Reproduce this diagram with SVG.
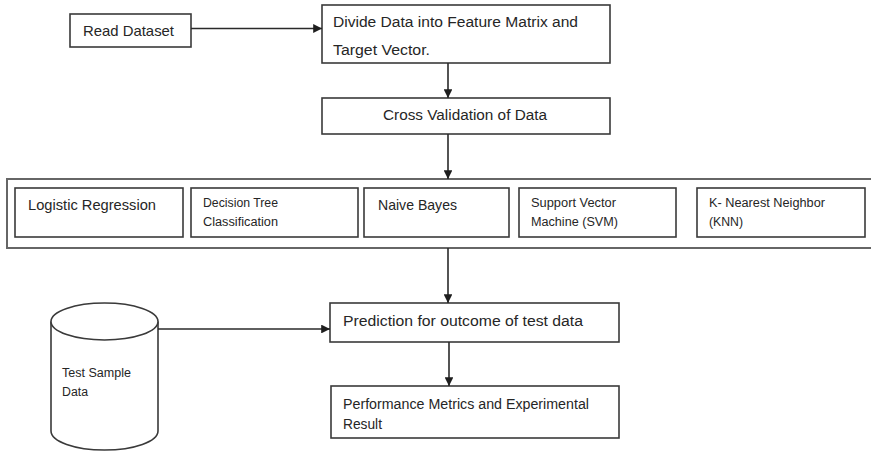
<svg xmlns="http://www.w3.org/2000/svg" width="871" height="452" viewBox="0 0 871 452">
  <style>
    .box { fill: #ffffff; stroke: #3a3a3a; stroke-width: 1.6; }
    .frame { fill: #ffffff; stroke: #666666; stroke-width: 2; }
    .link { fill: none; stroke: #2a2a2a; stroke-width: 1.6; }
    text { font-family: "Liberation Sans", Arial, sans-serif; fill: #262626; }
    .lg { font-size: 15px; }
    .md { font-size: 14px; }
    .sm { font-size: 12.5px; }
  </style>
  <defs>
    <marker id="arrow" viewBox="0 0 10 10" refX="10" refY="5" markerWidth="5.5" markerHeight="5.5" orient="auto" markerUnits="strokeWidth">
      <path d="M0,0 L10,5 L0,10 z" fill="#1e1e1e"/>
    </marker>
  </defs>
  <rect width="871" height="452" fill="#ffffff"/>

  <g id="read-dataset">
    <rect class="box" x="70" y="14" width="121" height="33"/>
    <text class="lg" x="83" y="36" textLength="91" lengthAdjust="spacingAndGlyphs">Read Dataset</text>
  </g>

  <g id="divide-data">
    <rect class="box" x="322" y="5" width="288" height="58"/>
    <text class="md" x="333" y="27" textLength="245" lengthAdjust="spacingAndGlyphs">Divide Data into Feature Matrix and</text>
    <text class="md" x="333" y="55" textLength="97" lengthAdjust="spacingAndGlyphs">Target Vector.</text>
  </g>

  <g id="cross-validation">
    <rect class="box" x="322" y="98" width="288" height="36"/>
    <text class="md" x="383" y="120" textLength="164" lengthAdjust="spacingAndGlyphs">Cross Validation of Data</text>
  </g>

  <g id="classifiers">
    <rect class="frame" x="7" y="179" width="870" height="69"/>
    <g id="logistic-regression">
      <rect class="box" x="15" y="188" width="168" height="49"/>
      <text class="lg" x="28" y="210" textLength="128" lengthAdjust="spacingAndGlyphs">Logistic Regression</text>
    </g>
    <g id="decision-tree">
      <rect class="box" x="191" y="188" width="167" height="49"/>
      <text class="sm" x="203" y="207" textLength="75" lengthAdjust="spacingAndGlyphs">Decision Tree</text>
      <text class="sm" x="203" y="226" textLength="75" lengthAdjust="spacingAndGlyphs">Classification</text>
    </g>
    <g id="naive-bayes">
      <rect class="box" x="364" y="188" width="145" height="49"/>
      <text class="lg" x="378" y="210" textLength="79" lengthAdjust="spacingAndGlyphs">Naive Bayes</text>
    </g>
    <g id="svm">
      <rect class="box" x="519" y="188" width="157" height="49"/>
      <text class="sm" x="531" y="207" textLength="85" lengthAdjust="spacingAndGlyphs">Support Vector</text>
      <text class="sm" x="531" y="226" textLength="87" lengthAdjust="spacingAndGlyphs">Machine (SVM)</text>
    </g>
    <g id="knn">
      <rect class="box" x="697" y="188" width="168" height="49"/>
      <text class="sm" x="709" y="207" textLength="116" lengthAdjust="spacingAndGlyphs">K- Nearest Neighbor</text>
      <text class="sm" x="709" y="226" textLength="34" lengthAdjust="spacingAndGlyphs">(KNN)</text>
    </g>
  </g>

  <g id="prediction">
    <rect class="box" x="330" y="303" width="289" height="39"/>
    <text class="md" x="343" y="326" textLength="240" lengthAdjust="spacingAndGlyphs">Prediction  for outcome  of test data</text>
  </g>

  <g id="performance">
    <rect class="box" x="331" y="386" width="288" height="52"/>
    <text class="md" x="343" y="409" textLength="246" lengthAdjust="spacingAndGlyphs">Performance Metrics and Experimental</text>
    <text class="md" x="343" y="429" textLength="39" lengthAdjust="spacingAndGlyphs">Result</text>
  </g>

  <g id="test-sample-data">
    <path class="box" d="M51,321.5 L51,431 A53.5,19 0 0 0 158,431 L158,321.5"/>
    <ellipse class="box" cx="104.5" cy="321.5" rx="53.5" ry="18.5"/>
    <text class="sm" x="62" y="377" textLength="69" lengthAdjust="spacingAndGlyphs">Test Sample</text>
    <text class="sm" x="62" y="396" textLength="26" lengthAdjust="spacingAndGlyphs">Data</text>
  </g>

  <g id="connectors">
    <line class="link" x1="191" y1="28.5" x2="322" y2="28.5" marker-end="url(#arrow)"/>
    <line class="link" x1="448" y1="63" x2="448" y2="98" marker-end="url(#arrow)"/>
    <line class="link" x1="448" y1="134" x2="448" y2="179" marker-end="url(#arrow)"/>
    <line class="link" x1="448" y1="248" x2="448" y2="303" marker-end="url(#arrow)"/>
    <line class="link" x1="158" y1="329" x2="330" y2="329" marker-end="url(#arrow)"/>
    <line class="link" x1="449" y1="342" x2="449" y2="386" marker-end="url(#arrow)"/>
  </g>
</svg>
